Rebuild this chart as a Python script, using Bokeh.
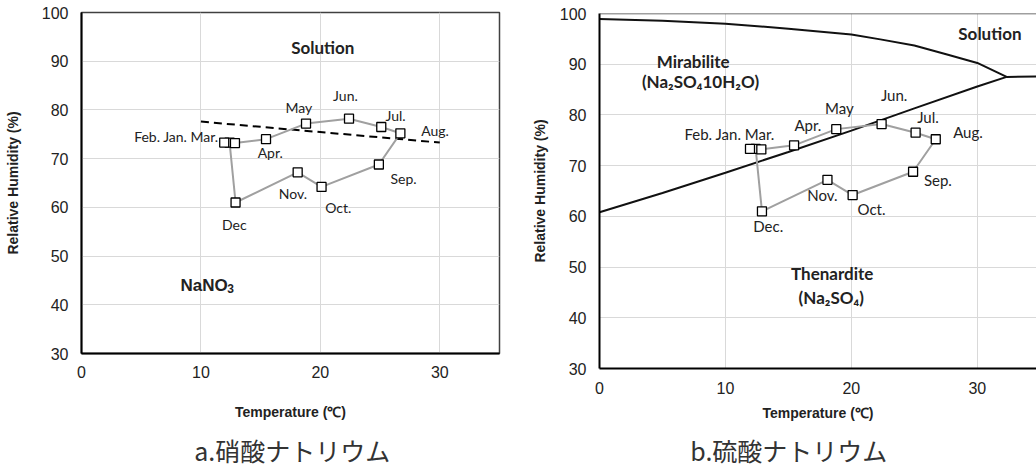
from bokeh.plotting import figure
from bokeh.layouts import row, column
from bokeh.models import Span, Range1d
from bokeh.core.properties import value
from bokeh.embed import file_html
from bokeh.resources import INLINE

# ---- data ----
months = ["Jan", "Feb", "Mar", "Apr", "May", "Jun", "Jul", "Aug", "Sep", "Oct", "Nov", "Dec"]
temp = [12.4, 11.95, 12.85, 15.45, 18.8, 22.4, 25.1, 26.7, 24.9, 20.1, 18.1, 12.9]
rh = [73.3, 73.3, 73.2, 74.0, 77.2, 78.2, 76.5, 75.2, 68.8, 64.2, 67.2, 61.0]

# NaNO3 deliquescence (dashed)
nano3_t = [10, 30]
nano3_rh = [77.6, 73.3]

# Na2SO4 phase boundaries
sol_mir_t = [0, 5, 10, 15, 20, 22.3, 25, 27.6, 30, 32.33, 36]
sol_mir_rh = [98.9, 98.55, 98.0, 97.0, 95.85, 94.9, 93.7, 91.9, 90.25, 87.5, 87.6]
mir_then_t = [0, 5, 10, 15, 20, 25, 30, 32.33]
mir_then_rh = [60.8, 64.6, 68.6, 72.7, 76.9, 81.3, 85.6, 87.5]

x_ticks = [0, 10, 20, 30]
y_ticks = [30, 40, 50, 60, 70, 80, 90, 100]

# month labels
a_lab = ["May", "Jun.", "Jul.", "Aug.", "Feb. Jan. Mar.", "Apr.", "Sep.", "Nov.", "Oct.", "Dec"]
a_lab_x = [18.2, 22.1, 26.3, 29.6, 7.94, 15.8, 26.96, 17.7, 21.5, 12.8]
a_lab_y = [80.6, 82.9, 78.8, 75.8, 74.6, 71.2, 65.9, 62.9, 59.95, 56.4]

b_lab = ["Jun.", "May", "Jul.", "Apr.", "Feb. Jan. Mar.", "Aug.", "Sep.", "Nov.", "Oct.", "Dec."]
b_lab_x = [23.4, 19.04, 26.08, 16.55, 10.33, 29.26, 26.87, 17.7, 21.6, 13.4]
b_lab_y = [84.0, 81.4, 79.6, 78.0, 76.3, 76.6, 67.1, 64.25, 61.5, 58.1]

a_region = ["Solution"]
a_region_x = [20.2]
a_region_y = [92.9]
a_salt = ["NaNO", "3"]
a_salt_x = [8.29, 12.2]
a_salt_y = [43.9, 43.4]

b_region = ["Solution", "Mirabilite", "(Na₂SO₄10H₂O)", "Thenardite", "(Na₂SO₄)"]
b_region_x = [31.0, 7.44, 8.02, 18.48, 18.4]
b_region_y = [96.05, 90.6, 86.5, 48.8, 44.0]

captions = ["a.硝酸ナトリウム", "b.硫酸ナトリウム"]

TICK_FONT = "Liberation Sans"
LAB_FONT = "Lato"


def base_fig(h, xmax, mbl, mbr, mbt, mbb, tick_sd, xlab_sd, ylab_sd, xtick_sd):
    p = figure(width=518, height=h, output_backend="svg", toolbar_location=None,
               x_range=Range1d(0, xmax), y_range=Range1d(30, 100),
               min_border_left=mbl, min_border_right=mbr,
               min_border_top=mbt, min_border_bottom=mbb)
    p.background_fill_color = "white"
    p.border_fill_color = "white"
    p.xaxis.ticker = x_ticks
    p.yaxis.ticker = y_ticks
    for ax in (p.xaxis, p.yaxis):
        ax.major_tick_out = 0
        ax.major_tick_in = 0
        ax.minor_tick_out = 0
        ax.minor_tick_in = 0
        ax.axis_line_color = "black"
        ax.axis_line_width = 2
        ax.major_label_text_font = TICK_FONT
        ax.major_label_text_font_size = "16px"
        ax.major_label_text_color = "#222222"
        ax.axis_label_text_font = TICK_FONT
        ax.axis_label_text_font_size = "14px"
        ax.axis_label_text_font_style = "bold"
        ax.axis_label_text_color = "#222222"
    p.xaxis.major_label_standoff = xtick_sd
    p.yaxis.major_label_standoff = tick_sd
    p.xaxis.axis_label = "Temperature (℃)"
    p.yaxis.axis_label = "Relative Humidity (%)"
    p.xaxis.axis_label_standoff = xlab_sd
    p.yaxis.axis_label_standoff = ylab_sd
    p.xgrid.grid_line_color = "#d9d9d9"
    p.ygrid.grid_line_color = "#d9d9d9"
    p.xgrid.grid_line_width = 1
    p.ygrid.grid_line_width = 1
    return p


def caption_fig(h, x0, x1, txt, cx, cy):
    c = figure(width=518, height=h, output_backend="svg", toolbar_location=None,
               x_range=Range1d(x0, x1), y_range=Range1d(0, h),
               x_axis_location=None, y_axis_location=None, min_border=0)
    c.outline_line_color = None
    c.xgrid.visible = False
    c.ygrid.visible = False
    c.text([cx], [cy], text=[txt], text_font=value("Noto Sans CJK JP"), text_font_size="25px",
           text_align="center", text_baseline="middle", text_color="#333333")
    return c


# ---- chart a ----
pa = base_fig(422, 35, 81, 19, 12, 66, 13, 23, 18, 12)
pa.outline_line_color = "#404040"
pa.outline_line_width = 1.5
pa.line(nano3_t, nano3_rh, line_color="black", line_width=2, line_dash="8 5")
pa.line(temp + [temp[0]], rh + [rh[0]], line_color="#a0a0a0", line_width=2)
pa.scatter(temp, rh, marker="square", size=9, fill_color="white",
           line_color="black", line_width=1.3)
pa.text(a_lab_x, a_lab_y, text=a_lab, text_font=value(LAB_FONT), text_font_size="14px",
        text_align="center", text_baseline="middle", text_color="#222222")
pa.text(a_region_x, a_region_y, text=a_region, text_font=value(LAB_FONT), text_font_size="17px",
        text_font_style="bold", text_align="center", text_baseline="middle", text_color="#222222")
pa.text(a_salt_x[:1], a_salt_y[:1], text=a_salt[:1], text_font=value(TICK_FONT), text_font_size="17px",
        text_font_style="bold", text_align="left", text_baseline="middle", text_color="#222222")
pa.text(a_salt_x[1:], a_salt_y[1:], text=a_salt[1:], text_font=value(TICK_FONT), text_font_size="12px",
        text_font_style="bold", text_align="left", text_baseline="middle", text_color="#222222")
ca = caption_fig(45, 81, 499, captions[0], 291.7, 18.0)

# ---- chart b ----
pb = base_fig(425, 34.7, 81, 0, 13, 57, 13, 8, 9, 13)
pb.outline_line_color = None
pb.add_layout(Span(location=100, dimension="width", line_color="#404040", line_width=1.5))
pb.line(sol_mir_t, sol_mir_rh, line_color="#111111", line_width=2)
pb.line(mir_then_t, mir_then_rh, line_color="#111111", line_width=2)
pb.line(temp + [temp[0]], rh + [rh[0]], line_color="#a0a0a0", line_width=2)
pb.scatter(temp, rh, marker="square", size=9, fill_color="white",
           line_color="black", line_width=1.3)
pb.text(b_lab_x, b_lab_y, text=b_lab, text_font=value(LAB_FONT), text_font_size="15px",
        text_align="center", text_baseline="middle", text_color="#222222")
pb.text(b_region_x, b_region_y, text=b_region, text_font=value(LAB_FONT), text_font_size="17px",
        text_font_style="bold", text_align="center", text_baseline="middle", text_color="#222222")
cb = caption_fig(42, 81, 518, captions[1], 270.3, 18.0)

layout = row(column(pa, ca), column(pb, cb))
open("out.html", "w").write(file_html(layout, INLINE))
